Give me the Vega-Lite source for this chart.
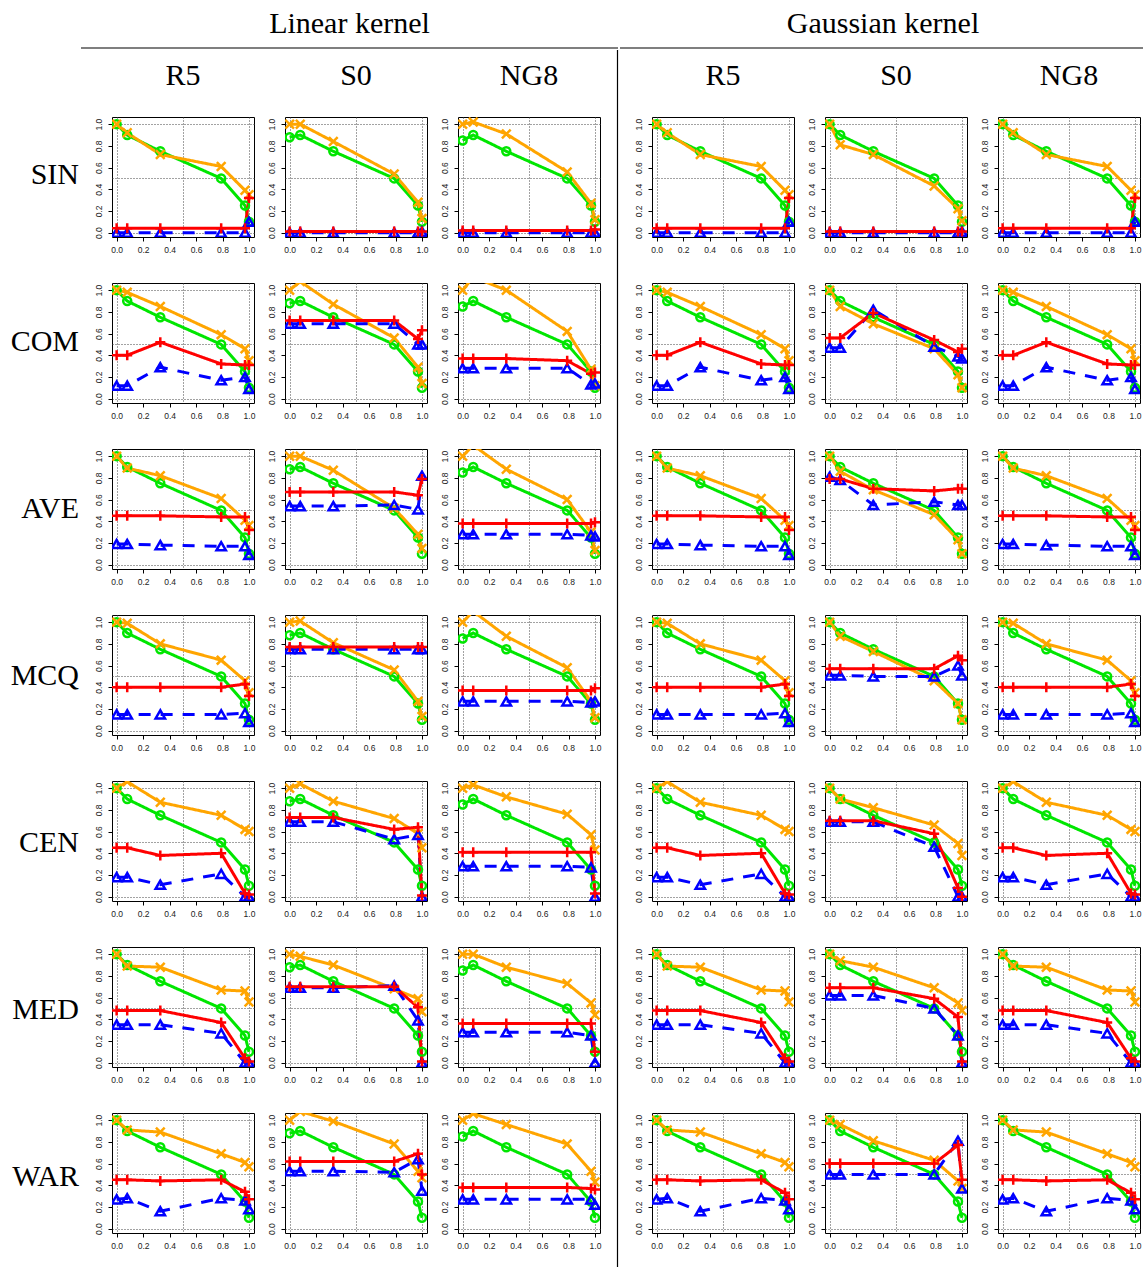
{
"$schema": "https://vega.github.io/schema/vega-lite/v6.json",
"background": "white",
"padding": {"left": 10, "top": 0, "right": 0, "bottom": 0},
"config": {"view": {"stroke": "#000", "strokeWidth": 1}},
"datasets": {
"lin": [
{"m":"SIN","d":"R5","s":"g","x":0,"y":1},{"m":"SIN","d":"R5","s":"g","x":0.08,"y":0.9},{"m":"SIN","d":"R5","s":"g","x":0.33,"y":0.75},{"m":"SIN","d":"R5","s":"g","x":0.79,"y":0.5},{"m":"SIN","d":"R5","s":"g","x":0.97,"y":0.25},{"m":"SIN","d":"R5","s":"g","x":1,"y":0.1},
{"m":"SIN","d":"R5","s":"o","x":0,"y":1},{"m":"SIN","d":"R5","s":"o","x":0.08,"y":0.92},{"m":"SIN","d":"R5","s":"o","x":0.33,"y":0.72},{"m":"SIN","d":"R5","s":"o","x":0.79,"y":0.61},{"m":"SIN","d":"R5","s":"o","x":0.97,"y":0.39},{"m":"SIN","d":"R5","s":"o","x":1,"y":0.35},
{"m":"SIN","d":"R5","s":"b","x":0,"y":0},{"m":"SIN","d":"R5","s":"b","x":0.08,"y":0},{"m":"SIN","d":"R5","s":"b","x":0.33,"y":0},{"m":"SIN","d":"R5","s":"b","x":0.79,"y":0},{"m":"SIN","d":"R5","s":"b","x":0.97,"y":0},{"m":"SIN","d":"R5","s":"b","x":1,"y":0.1},
{"m":"SIN","d":"R5","s":"r","x":0,"y":0.04},{"m":"SIN","d":"R5","s":"r","x":0.08,"y":0.04},{"m":"SIN","d":"R5","s":"r","x":0.33,"y":0.04},{"m":"SIN","d":"R5","s":"r","x":0.79,"y":0.04},{"m":"SIN","d":"R5","s":"r","x":0.97,"y":0.04},{"m":"SIN","d":"R5","s":"r","x":1,"y":0.32},
{"m":"SIN","d":"S0","s":"g","x":0,"y":0.88},{"m":"SIN","d":"S0","s":"g","x":0.08,"y":0.9},{"m":"SIN","d":"S0","s":"g","x":0.33,"y":0.75},{"m":"SIN","d":"S0","s":"g","x":0.79,"y":0.5},{"m":"SIN","d":"S0","s":"g","x":0.97,"y":0.25},{"m":"SIN","d":"S0","s":"g","x":1,"y":0.1},
{"m":"SIN","d":"S0","s":"o","x":0,"y":1},{"m":"SIN","d":"S0","s":"o","x":0.08,"y":1},{"m":"SIN","d":"S0","s":"o","x":0.33,"y":0.84},{"m":"SIN","d":"S0","s":"o","x":0.79,"y":0.54},{"m":"SIN","d":"S0","s":"o","x":0.97,"y":0.28},{"m":"SIN","d":"S0","s":"o","x":1,"y":0.13},
{"m":"SIN","d":"S0","s":"b","x":0,"y":0},{"m":"SIN","d":"S0","s":"b","x":0.08,"y":0},{"m":"SIN","d":"S0","s":"b","x":0.33,"y":0},{"m":"SIN","d":"S0","s":"b","x":0.79,"y":0},{"m":"SIN","d":"S0","s":"b","x":0.97,"y":0},{"m":"SIN","d":"S0","s":"b","x":1,"y":0.01},
{"m":"SIN","d":"S0","s":"r","x":0,"y":0.01},{"m":"SIN","d":"S0","s":"r","x":0.08,"y":0.01},{"m":"SIN","d":"S0","s":"r","x":0.33,"y":0.01},{"m":"SIN","d":"S0","s":"r","x":0.79,"y":0.01},{"m":"SIN","d":"S0","s":"r","x":0.97,"y":0.01},{"m":"SIN","d":"S0","s":"r","x":1,"y":0.01},
{"m":"SIN","d":"NG8","s":"g","x":0,"y":0.85},{"m":"SIN","d":"NG8","s":"g","x":0.08,"y":0.9},{"m":"SIN","d":"NG8","s":"g","x":0.33,"y":0.75},{"m":"SIN","d":"NG8","s":"g","x":0.79,"y":0.5},{"m":"SIN","d":"NG8","s":"g","x":0.97,"y":0.25},{"m":"SIN","d":"NG8","s":"g","x":1,"y":0.1},
{"m":"SIN","d":"NG8","s":"o","x":0,"y":1},{"m":"SIN","d":"NG8","s":"o","x":0.08,"y":1.02},{"m":"SIN","d":"NG8","s":"o","x":0.33,"y":0.91},{"m":"SIN","d":"NG8","s":"o","x":0.79,"y":0.56},{"m":"SIN","d":"NG8","s":"o","x":0.97,"y":0.27},{"m":"SIN","d":"NG8","s":"o","x":1,"y":0.12},
{"m":"SIN","d":"NG8","s":"b","x":0,"y":0},{"m":"SIN","d":"NG8","s":"b","x":0.08,"y":0},{"m":"SIN","d":"NG8","s":"b","x":0.33,"y":0},{"m":"SIN","d":"NG8","s":"b","x":0.79,"y":0},{"m":"SIN","d":"NG8","s":"b","x":0.97,"y":0},{"m":"SIN","d":"NG8","s":"b","x":1,"y":0},
{"m":"SIN","d":"NG8","s":"r","x":0,"y":0.02},{"m":"SIN","d":"NG8","s":"r","x":0.08,"y":0.02},{"m":"SIN","d":"NG8","s":"r","x":0.33,"y":0.02},{"m":"SIN","d":"NG8","s":"r","x":0.79,"y":0.02},{"m":"SIN","d":"NG8","s":"r","x":0.97,"y":0.02},{"m":"SIN","d":"NG8","s":"r","x":1,"y":0.03},
{"m":"COM","d":"R5","s":"g","x":0,"y":1},{"m":"COM","d":"R5","s":"g","x":0.08,"y":0.9},{"m":"COM","d":"R5","s":"g","x":0.33,"y":0.75},{"m":"COM","d":"R5","s":"g","x":0.79,"y":0.5},{"m":"COM","d":"R5","s":"g","x":0.97,"y":0.25},{"m":"COM","d":"R5","s":"g","x":1,"y":0.1},
{"m":"COM","d":"R5","s":"o","x":0,"y":1},{"m":"COM","d":"R5","s":"o","x":0.08,"y":0.98},{"m":"COM","d":"R5","s":"o","x":0.33,"y":0.85},{"m":"COM","d":"R5","s":"o","x":0.79,"y":0.59},{"m":"COM","d":"R5","s":"o","x":0.97,"y":0.46},{"m":"COM","d":"R5","s":"o","x":1,"y":0.35},
{"m":"COM","d":"R5","s":"b","x":0,"y":0.12},{"m":"COM","d":"R5","s":"b","x":0.08,"y":0.12},{"m":"COM","d":"R5","s":"b","x":0.33,"y":0.29},{"m":"COM","d":"R5","s":"b","x":0.79,"y":0.17},{"m":"COM","d":"R5","s":"b","x":0.97,"y":0.2},{"m":"COM","d":"R5","s":"b","x":1,"y":0.09},
{"m":"COM","d":"R5","s":"r","x":0,"y":0.4},{"m":"COM","d":"R5","s":"r","x":0.08,"y":0.4},{"m":"COM","d":"R5","s":"r","x":0.33,"y":0.52},{"m":"COM","d":"R5","s":"r","x":0.79,"y":0.32},{"m":"COM","d":"R5","s":"r","x":0.97,"y":0.31},{"m":"COM","d":"R5","s":"r","x":1,"y":0.31},
{"m":"COM","d":"S0","s":"g","x":0,"y":0.88},{"m":"COM","d":"S0","s":"g","x":0.08,"y":0.9},{"m":"COM","d":"S0","s":"g","x":0.33,"y":0.75},{"m":"COM","d":"S0","s":"g","x":0.79,"y":0.5},{"m":"COM","d":"S0","s":"g","x":0.97,"y":0.25},{"m":"COM","d":"S0","s":"g","x":1,"y":0.1},
{"m":"COM","d":"S0","s":"o","x":0,"y":1},{"m":"COM","d":"S0","s":"o","x":0.08,"y":1.08},{"m":"COM","d":"S0","s":"o","x":0.33,"y":0.87},{"m":"COM","d":"S0","s":"o","x":0.79,"y":0.56},{"m":"COM","d":"S0","s":"o","x":0.97,"y":0.29},{"m":"COM","d":"S0","s":"o","x":1,"y":0.14},
{"m":"COM","d":"S0","s":"b","x":0,"y":0.69},{"m":"COM","d":"S0","s":"b","x":0.08,"y":0.69},{"m":"COM","d":"S0","s":"b","x":0.33,"y":0.69},{"m":"COM","d":"S0","s":"b","x":0.79,"y":0.69},{"m":"COM","d":"S0","s":"b","x":0.97,"y":0.5},{"m":"COM","d":"S0","s":"b","x":1,"y":0.5},
{"m":"COM","d":"S0","s":"r","x":0,"y":0.72},{"m":"COM","d":"S0","s":"r","x":0.08,"y":0.72},{"m":"COM","d":"S0","s":"r","x":0.33,"y":0.72},{"m":"COM","d":"S0","s":"r","x":0.79,"y":0.72},{"m":"COM","d":"S0","s":"r","x":0.97,"y":0.55},{"m":"COM","d":"S0","s":"r","x":1,"y":0.63},
{"m":"COM","d":"NG8","s":"g","x":0,"y":0.85},{"m":"COM","d":"NG8","s":"g","x":0.08,"y":0.9},{"m":"COM","d":"NG8","s":"g","x":0.33,"y":0.75},{"m":"COM","d":"NG8","s":"g","x":0.79,"y":0.5},{"m":"COM","d":"NG8","s":"g","x":0.97,"y":0.25},{"m":"COM","d":"NG8","s":"g","x":1,"y":0.1},
{"m":"COM","d":"NG8","s":"o","x":0,"y":1},{"m":"COM","d":"NG8","s":"o","x":0.08,"y":1.12},{"m":"COM","d":"NG8","s":"o","x":0.33,"y":1},{"m":"COM","d":"NG8","s":"o","x":0.79,"y":0.62},{"m":"COM","d":"NG8","s":"o","x":0.97,"y":0.27},{"m":"COM","d":"NG8","s":"o","x":1,"y":0.12},
{"m":"COM","d":"NG8","s":"b","x":0,"y":0.28},{"m":"COM","d":"NG8","s":"b","x":0.08,"y":0.28},{"m":"COM","d":"NG8","s":"b","x":0.33,"y":0.28},{"m":"COM","d":"NG8","s":"b","x":0.79,"y":0.28},{"m":"COM","d":"NG8","s":"b","x":0.97,"y":0.13},{"m":"COM","d":"NG8","s":"b","x":1,"y":0.14},
{"m":"COM","d":"NG8","s":"r","x":0,"y":0.37},{"m":"COM","d":"NG8","s":"r","x":0.08,"y":0.37},{"m":"COM","d":"NG8","s":"r","x":0.33,"y":0.37},{"m":"COM","d":"NG8","s":"r","x":0.79,"y":0.35},{"m":"COM","d":"NG8","s":"r","x":0.97,"y":0.23},{"m":"COM","d":"NG8","s":"r","x":1,"y":0.24},
{"m":"AVE","d":"R5","s":"g","x":0,"y":1},{"m":"AVE","d":"R5","s":"g","x":0.08,"y":0.9},{"m":"AVE","d":"R5","s":"g","x":0.33,"y":0.75},{"m":"AVE","d":"R5","s":"g","x":0.79,"y":0.5},{"m":"AVE","d":"R5","s":"g","x":0.97,"y":0.25},{"m":"AVE","d":"R5","s":"g","x":1,"y":0.1},
{"m":"AVE","d":"R5","s":"o","x":0,"y":1},{"m":"AVE","d":"R5","s":"o","x":0.08,"y":0.89},{"m":"AVE","d":"R5","s":"o","x":0.33,"y":0.82},{"m":"AVE","d":"R5","s":"o","x":0.79,"y":0.61},{"m":"AVE","d":"R5","s":"o","x":0.97,"y":0.41},{"m":"AVE","d":"R5","s":"o","x":1,"y":0.36},
{"m":"AVE","d":"R5","s":"b","x":0,"y":0.19},{"m":"AVE","d":"R5","s":"b","x":0.08,"y":0.19},{"m":"AVE","d":"R5","s":"b","x":0.33,"y":0.18},{"m":"AVE","d":"R5","s":"b","x":0.79,"y":0.17},{"m":"AVE","d":"R5","s":"b","x":0.97,"y":0.17},{"m":"AVE","d":"R5","s":"b","x":1,"y":0.09},
{"m":"AVE","d":"R5","s":"r","x":0,"y":0.45},{"m":"AVE","d":"R5","s":"r","x":0.08,"y":0.45},{"m":"AVE","d":"R5","s":"r","x":0.33,"y":0.45},{"m":"AVE","d":"R5","s":"r","x":0.79,"y":0.44},{"m":"AVE","d":"R5","s":"r","x":0.97,"y":0.44},{"m":"AVE","d":"R5","s":"r","x":1,"y":0.32},
{"m":"AVE","d":"S0","s":"g","x":0,"y":0.88},{"m":"AVE","d":"S0","s":"g","x":0.08,"y":0.9},{"m":"AVE","d":"S0","s":"g","x":0.33,"y":0.75},{"m":"AVE","d":"S0","s":"g","x":0.79,"y":0.5},{"m":"AVE","d":"S0","s":"g","x":0.97,"y":0.25},{"m":"AVE","d":"S0","s":"g","x":1,"y":0.1},
{"m":"AVE","d":"S0","s":"o","x":0,"y":1},{"m":"AVE","d":"S0","s":"o","x":0.08,"y":1},{"m":"AVE","d":"S0","s":"o","x":0.33,"y":0.87},{"m":"AVE","d":"S0","s":"o","x":0.79,"y":0.52},{"m":"AVE","d":"S0","s":"o","x":0.97,"y":0.28},{"m":"AVE","d":"S0","s":"o","x":1,"y":0.15},
{"m":"AVE","d":"S0","s":"b","x":0,"y":0.54},{"m":"AVE","d":"S0","s":"b","x":0.08,"y":0.54},{"m":"AVE","d":"S0","s":"b","x":0.33,"y":0.54},{"m":"AVE","d":"S0","s":"b","x":0.79,"y":0.55},{"m":"AVE","d":"S0","s":"b","x":0.97,"y":0.51},{"m":"AVE","d":"S0","s":"b","x":1,"y":0.82},
{"m":"AVE","d":"S0","s":"r","x":0,"y":0.67},{"m":"AVE","d":"S0","s":"r","x":0.08,"y":0.67},{"m":"AVE","d":"S0","s":"r","x":0.33,"y":0.67},{"m":"AVE","d":"S0","s":"r","x":0.79,"y":0.67},{"m":"AVE","d":"S0","s":"r","x":0.97,"y":0.64},{"m":"AVE","d":"S0","s":"r","x":1,"y":0.79},
{"m":"AVE","d":"NG8","s":"g","x":0,"y":0.85},{"m":"AVE","d":"NG8","s":"g","x":0.08,"y":0.9},{"m":"AVE","d":"NG8","s":"g","x":0.33,"y":0.75},{"m":"AVE","d":"NG8","s":"g","x":0.79,"y":0.5},{"m":"AVE","d":"NG8","s":"g","x":0.97,"y":0.25},{"m":"AVE","d":"NG8","s":"g","x":1,"y":0.1},
{"m":"AVE","d":"NG8","s":"o","x":0,"y":1},{"m":"AVE","d":"NG8","s":"o","x":0.08,"y":1.1},{"m":"AVE","d":"NG8","s":"o","x":0.33,"y":0.88},{"m":"AVE","d":"NG8","s":"o","x":0.79,"y":0.6},{"m":"AVE","d":"NG8","s":"o","x":0.97,"y":0.3},{"m":"AVE","d":"NG8","s":"o","x":1,"y":0.13},
{"m":"AVE","d":"NG8","s":"b","x":0,"y":0.28},{"m":"AVE","d":"NG8","s":"b","x":0.08,"y":0.28},{"m":"AVE","d":"NG8","s":"b","x":0.33,"y":0.28},{"m":"AVE","d":"NG8","s":"b","x":0.79,"y":0.28},{"m":"AVE","d":"NG8","s":"b","x":0.97,"y":0.27},{"m":"AVE","d":"NG8","s":"b","x":1,"y":0.26},
{"m":"AVE","d":"NG8","s":"r","x":0,"y":0.38},{"m":"AVE","d":"NG8","s":"r","x":0.08,"y":0.38},{"m":"AVE","d":"NG8","s":"r","x":0.33,"y":0.38},{"m":"AVE","d":"NG8","s":"r","x":0.79,"y":0.38},{"m":"AVE","d":"NG8","s":"r","x":0.97,"y":0.38},{"m":"AVE","d":"NG8","s":"r","x":1,"y":0.39},
{"m":"MCQ","d":"R5","s":"g","x":0,"y":1},{"m":"MCQ","d":"R5","s":"g","x":0.08,"y":0.9},{"m":"MCQ","d":"R5","s":"g","x":0.33,"y":0.75},{"m":"MCQ","d":"R5","s":"g","x":0.79,"y":0.5},{"m":"MCQ","d":"R5","s":"g","x":0.97,"y":0.25},{"m":"MCQ","d":"R5","s":"g","x":1,"y":0.1},
{"m":"MCQ","d":"R5","s":"o","x":0,"y":1},{"m":"MCQ","d":"R5","s":"o","x":0.08,"y":0.99},{"m":"MCQ","d":"R5","s":"o","x":0.33,"y":0.8},{"m":"MCQ","d":"R5","s":"o","x":0.79,"y":0.65},{"m":"MCQ","d":"R5","s":"o","x":0.97,"y":0.46},{"m":"MCQ","d":"R5","s":"o","x":1,"y":0.35},
{"m":"MCQ","d":"R5","s":"b","x":0,"y":0.15},{"m":"MCQ","d":"R5","s":"b","x":0.08,"y":0.15},{"m":"MCQ","d":"R5","s":"b","x":0.33,"y":0.15},{"m":"MCQ","d":"R5","s":"b","x":0.79,"y":0.15},{"m":"MCQ","d":"R5","s":"b","x":0.97,"y":0.16},{"m":"MCQ","d":"R5","s":"b","x":1,"y":0.08},
{"m":"MCQ","d":"R5","s":"r","x":0,"y":0.4},{"m":"MCQ","d":"R5","s":"r","x":0.08,"y":0.4},{"m":"MCQ","d":"R5","s":"r","x":0.33,"y":0.4},{"m":"MCQ","d":"R5","s":"r","x":0.79,"y":0.4},{"m":"MCQ","d":"R5","s":"r","x":0.97,"y":0.43},{"m":"MCQ","d":"R5","s":"r","x":1,"y":0.32},
{"m":"MCQ","d":"S0","s":"g","x":0,"y":0.88},{"m":"MCQ","d":"S0","s":"g","x":0.08,"y":0.9},{"m":"MCQ","d":"S0","s":"g","x":0.33,"y":0.75},{"m":"MCQ","d":"S0","s":"g","x":0.79,"y":0.5},{"m":"MCQ","d":"S0","s":"g","x":0.97,"y":0.25},{"m":"MCQ","d":"S0","s":"g","x":1,"y":0.1},
{"m":"MCQ","d":"S0","s":"o","x":0,"y":1},{"m":"MCQ","d":"S0","s":"o","x":0.08,"y":1.01},{"m":"MCQ","d":"S0","s":"o","x":0.33,"y":0.81},{"m":"MCQ","d":"S0","s":"o","x":0.79,"y":0.56},{"m":"MCQ","d":"S0","s":"o","x":0.97,"y":0.27},{"m":"MCQ","d":"S0","s":"o","x":1,"y":0.13},
{"m":"MCQ","d":"S0","s":"b","x":0,"y":0.75},{"m":"MCQ","d":"S0","s":"b","x":0.08,"y":0.75},{"m":"MCQ","d":"S0","s":"b","x":0.33,"y":0.75},{"m":"MCQ","d":"S0","s":"b","x":0.79,"y":0.75},{"m":"MCQ","d":"S0","s":"b","x":0.97,"y":0.75},{"m":"MCQ","d":"S0","s":"b","x":1,"y":0.75},
{"m":"MCQ","d":"S0","s":"r","x":0,"y":0.77},{"m":"MCQ","d":"S0","s":"r","x":0.08,"y":0.77},{"m":"MCQ","d":"S0","s":"r","x":0.33,"y":0.77},{"m":"MCQ","d":"S0","s":"r","x":0.79,"y":0.77},{"m":"MCQ","d":"S0","s":"r","x":0.97,"y":0.77},{"m":"MCQ","d":"S0","s":"r","x":1,"y":0.77},
{"m":"MCQ","d":"NG8","s":"g","x":0,"y":0.85},{"m":"MCQ","d":"NG8","s":"g","x":0.08,"y":0.9},{"m":"MCQ","d":"NG8","s":"g","x":0.33,"y":0.75},{"m":"MCQ","d":"NG8","s":"g","x":0.79,"y":0.5},{"m":"MCQ","d":"NG8","s":"g","x":0.97,"y":0.25},{"m":"MCQ","d":"NG8","s":"g","x":1,"y":0.1},
{"m":"MCQ","d":"NG8","s":"o","x":0,"y":1},{"m":"MCQ","d":"NG8","s":"o","x":0.08,"y":1.1},{"m":"MCQ","d":"NG8","s":"o","x":0.33,"y":0.87},{"m":"MCQ","d":"NG8","s":"o","x":0.79,"y":0.58},{"m":"MCQ","d":"NG8","s":"o","x":0.97,"y":0.27},{"m":"MCQ","d":"NG8","s":"o","x":1,"y":0.12},
{"m":"MCQ","d":"NG8","s":"b","x":0,"y":0.27},{"m":"MCQ","d":"NG8","s":"b","x":0.08,"y":0.27},{"m":"MCQ","d":"NG8","s":"b","x":0.33,"y":0.27},{"m":"MCQ","d":"NG8","s":"b","x":0.79,"y":0.27},{"m":"MCQ","d":"NG8","s":"b","x":0.97,"y":0.26},{"m":"MCQ","d":"NG8","s":"b","x":1,"y":0.27},
{"m":"MCQ","d":"NG8","s":"r","x":0,"y":0.37},{"m":"MCQ","d":"NG8","s":"r","x":0.08,"y":0.37},{"m":"MCQ","d":"NG8","s":"r","x":0.33,"y":0.37},{"m":"MCQ","d":"NG8","s":"r","x":0.79,"y":0.37},{"m":"MCQ","d":"NG8","s":"r","x":0.97,"y":0.37},{"m":"MCQ","d":"NG8","s":"r","x":1,"y":0.39},
{"m":"CEN","d":"R5","s":"g","x":0,"y":1},{"m":"CEN","d":"R5","s":"g","x":0.08,"y":0.9},{"m":"CEN","d":"R5","s":"g","x":0.33,"y":0.75},{"m":"CEN","d":"R5","s":"g","x":0.79,"y":0.5},{"m":"CEN","d":"R5","s":"g","x":0.97,"y":0.25},{"m":"CEN","d":"R5","s":"g","x":1,"y":0.1},
{"m":"CEN","d":"R5","s":"o","x":0,"y":1},{"m":"CEN","d":"R5","s":"o","x":0.08,"y":1.06},{"m":"CEN","d":"R5","s":"o","x":0.33,"y":0.87},{"m":"CEN","d":"R5","s":"o","x":0.79,"y":0.75},{"m":"CEN","d":"R5","s":"o","x":0.97,"y":0.62},{"m":"CEN","d":"R5","s":"o","x":1,"y":0.6},
{"m":"CEN","d":"R5","s":"b","x":0,"y":0.18},{"m":"CEN","d":"R5","s":"b","x":0.08,"y":0.18},{"m":"CEN","d":"R5","s":"b","x":0.33,"y":0.11},{"m":"CEN","d":"R5","s":"b","x":0.79,"y":0.21},{"m":"CEN","d":"R5","s":"b","x":0.97,"y":0},{"m":"CEN","d":"R5","s":"b","x":1,"y":0},
{"m":"CEN","d":"R5","s":"r","x":0,"y":0.45},{"m":"CEN","d":"R5","s":"r","x":0.08,"y":0.45},{"m":"CEN","d":"R5","s":"r","x":0.33,"y":0.38},{"m":"CEN","d":"R5","s":"r","x":0.79,"y":0.4},{"m":"CEN","d":"R5","s":"r","x":0.97,"y":0.03},{"m":"CEN","d":"R5","s":"r","x":1,"y":0.02},
{"m":"CEN","d":"S0","s":"g","x":0,"y":0.88},{"m":"CEN","d":"S0","s":"g","x":0.08,"y":0.9},{"m":"CEN","d":"S0","s":"g","x":0.33,"y":0.75},{"m":"CEN","d":"S0","s":"g","x":0.79,"y":0.5},{"m":"CEN","d":"S0","s":"g","x":0.97,"y":0.25},{"m":"CEN","d":"S0","s":"g","x":1,"y":0.1},
{"m":"CEN","d":"S0","s":"o","x":0,"y":1},{"m":"CEN","d":"S0","s":"o","x":0.08,"y":1.04},{"m":"CEN","d":"S0","s":"o","x":0.33,"y":0.88},{"m":"CEN","d":"S0","s":"o","x":0.79,"y":0.72},{"m":"CEN","d":"S0","s":"o","x":0.97,"y":0.58},{"m":"CEN","d":"S0","s":"o","x":1,"y":0.45},
{"m":"CEN","d":"S0","s":"b","x":0,"y":0.69},{"m":"CEN","d":"S0","s":"b","x":0.08,"y":0.69},{"m":"CEN","d":"S0","s":"b","x":0.33,"y":0.69},{"m":"CEN","d":"S0","s":"b","x":0.79,"y":0.53},{"m":"CEN","d":"S0","s":"b","x":0.97,"y":0.57},{"m":"CEN","d":"S0","s":"b","x":1,"y":0},
{"m":"CEN","d":"S0","s":"r","x":0,"y":0.73},{"m":"CEN","d":"S0","s":"r","x":0.08,"y":0.73},{"m":"CEN","d":"S0","s":"r","x":0.33,"y":0.73},{"m":"CEN","d":"S0","s":"r","x":0.79,"y":0.62},{"m":"CEN","d":"S0","s":"r","x":0.97,"y":0.64},{"m":"CEN","d":"S0","s":"r","x":1,"y":0.01},
{"m":"CEN","d":"NG8","s":"g","x":0,"y":0.85},{"m":"CEN","d":"NG8","s":"g","x":0.08,"y":0.9},{"m":"CEN","d":"NG8","s":"g","x":0.33,"y":0.75},{"m":"CEN","d":"NG8","s":"g","x":0.79,"y":0.5},{"m":"CEN","d":"NG8","s":"g","x":0.97,"y":0.25},{"m":"CEN","d":"NG8","s":"g","x":1,"y":0.1},
{"m":"CEN","d":"NG8","s":"o","x":0,"y":1},{"m":"CEN","d":"NG8","s":"o","x":0.08,"y":1.03},{"m":"CEN","d":"NG8","s":"o","x":0.33,"y":0.92},{"m":"CEN","d":"NG8","s":"o","x":0.79,"y":0.76},{"m":"CEN","d":"NG8","s":"o","x":0.97,"y":0.57},{"m":"CEN","d":"NG8","s":"o","x":1,"y":0.43},
{"m":"CEN","d":"NG8","s":"b","x":0,"y":0.28},{"m":"CEN","d":"NG8","s":"b","x":0.08,"y":0.28},{"m":"CEN","d":"NG8","s":"b","x":0.33,"y":0.28},{"m":"CEN","d":"NG8","s":"b","x":0.79,"y":0.28},{"m":"CEN","d":"NG8","s":"b","x":0.97,"y":0.27},{"m":"CEN","d":"NG8","s":"b","x":1,"y":0},
{"m":"CEN","d":"NG8","s":"r","x":0,"y":0.41},{"m":"CEN","d":"NG8","s":"r","x":0.08,"y":0.41},{"m":"CEN","d":"NG8","s":"r","x":0.33,"y":0.41},{"m":"CEN","d":"NG8","s":"r","x":0.79,"y":0.41},{"m":"CEN","d":"NG8","s":"r","x":0.97,"y":0.41},{"m":"CEN","d":"NG8","s":"r","x":1,"y":0.03},
{"m":"MED","d":"R5","s":"g","x":0,"y":1},{"m":"MED","d":"R5","s":"g","x":0.08,"y":0.9},{"m":"MED","d":"R5","s":"g","x":0.33,"y":0.75},{"m":"MED","d":"R5","s":"g","x":0.79,"y":0.5},{"m":"MED","d":"R5","s":"g","x":0.97,"y":0.25},{"m":"MED","d":"R5","s":"g","x":1,"y":0.1},
{"m":"MED","d":"R5","s":"o","x":0,"y":1},{"m":"MED","d":"R5","s":"o","x":0.08,"y":0.89},{"m":"MED","d":"R5","s":"o","x":0.33,"y":0.88},{"m":"MED","d":"R5","s":"o","x":0.79,"y":0.67},{"m":"MED","d":"R5","s":"o","x":0.97,"y":0.66},{"m":"MED","d":"R5","s":"o","x":1,"y":0.56},
{"m":"MED","d":"R5","s":"b","x":0,"y":0.35},{"m":"MED","d":"R5","s":"b","x":0.08,"y":0.35},{"m":"MED","d":"R5","s":"b","x":0.33,"y":0.35},{"m":"MED","d":"R5","s":"b","x":0.79,"y":0.27},{"m":"MED","d":"R5","s":"b","x":0.97,"y":0},{"m":"MED","d":"R5","s":"b","x":1,"y":0},
{"m":"MED","d":"R5","s":"r","x":0,"y":0.48},{"m":"MED","d":"R5","s":"r","x":0.08,"y":0.48},{"m":"MED","d":"R5","s":"r","x":0.33,"y":0.48},{"m":"MED","d":"R5","s":"r","x":0.79,"y":0.37},{"m":"MED","d":"R5","s":"r","x":0.97,"y":0.04},{"m":"MED","d":"R5","s":"r","x":1,"y":0.01},
{"m":"MED","d":"S0","s":"g","x":0,"y":0.88},{"m":"MED","d":"S0","s":"g","x":0.08,"y":0.9},{"m":"MED","d":"S0","s":"g","x":0.33,"y":0.75},{"m":"MED","d":"S0","s":"g","x":0.79,"y":0.5},{"m":"MED","d":"S0","s":"g","x":0.97,"y":0.25},{"m":"MED","d":"S0","s":"g","x":1,"y":0.1},
{"m":"MED","d":"S0","s":"o","x":0,"y":1},{"m":"MED","d":"S0","s":"o","x":0.08,"y":0.98},{"m":"MED","d":"S0","s":"o","x":0.33,"y":0.9},{"m":"MED","d":"S0","s":"o","x":0.79,"y":0.68},{"m":"MED","d":"S0","s":"o","x":0.97,"y":0.59},{"m":"MED","d":"S0","s":"o","x":1,"y":0.47},
{"m":"MED","d":"S0","s":"b","x":0,"y":0.69},{"m":"MED","d":"S0","s":"b","x":0.08,"y":0.69},{"m":"MED","d":"S0","s":"b","x":0.33,"y":0.69},{"m":"MED","d":"S0","s":"b","x":0.79,"y":0.71},{"m":"MED","d":"S0","s":"b","x":0.97,"y":0.39},{"m":"MED","d":"S0","s":"b","x":1,"y":0},
{"m":"MED","d":"S0","s":"r","x":0,"y":0.7},{"m":"MED","d":"S0","s":"r","x":0.08,"y":0.7},{"m":"MED","d":"S0","s":"r","x":0.33,"y":0.7},{"m":"MED","d":"S0","s":"r","x":0.79,"y":0.7},{"m":"MED","d":"S0","s":"r","x":0.97,"y":0.51},{"m":"MED","d":"S0","s":"r","x":1,"y":0.01},
{"m":"MED","d":"NG8","s":"g","x":0,"y":0.85},{"m":"MED","d":"NG8","s":"g","x":0.08,"y":0.9},{"m":"MED","d":"NG8","s":"g","x":0.33,"y":0.75},{"m":"MED","d":"NG8","s":"g","x":0.79,"y":0.5},{"m":"MED","d":"NG8","s":"g","x":0.97,"y":0.25},{"m":"MED","d":"NG8","s":"g","x":1,"y":0.1},
{"m":"MED","d":"NG8","s":"o","x":0,"y":1},{"m":"MED","d":"NG8","s":"o","x":0.08,"y":1},{"m":"MED","d":"NG8","s":"o","x":0.33,"y":0.88},{"m":"MED","d":"NG8","s":"o","x":0.79,"y":0.73},{"m":"MED","d":"NG8","s":"o","x":0.97,"y":0.55},{"m":"MED","d":"NG8","s":"o","x":1,"y":0.44},
{"m":"MED","d":"NG8","s":"b","x":0,"y":0.28},{"m":"MED","d":"NG8","s":"b","x":0.08,"y":0.28},{"m":"MED","d":"NG8","s":"b","x":0.33,"y":0.28},{"m":"MED","d":"NG8","s":"b","x":0.79,"y":0.28},{"m":"MED","d":"NG8","s":"b","x":0.97,"y":0.25},{"m":"MED","d":"NG8","s":"b","x":1,"y":0},
{"m":"MED","d":"NG8","s":"r","x":0,"y":0.36},{"m":"MED","d":"NG8","s":"r","x":0.08,"y":0.36},{"m":"MED","d":"NG8","s":"r","x":0.33,"y":0.36},{"m":"MED","d":"NG8","s":"r","x":0.79,"y":0.36},{"m":"MED","d":"NG8","s":"r","x":0.97,"y":0.36},{"m":"MED","d":"NG8","s":"r","x":1,"y":0.1},
{"m":"WAR","d":"R5","s":"g","x":0,"y":1},{"m":"WAR","d":"R5","s":"g","x":0.08,"y":0.9},{"m":"WAR","d":"R5","s":"g","x":0.33,"y":0.75},{"m":"WAR","d":"R5","s":"g","x":0.79,"y":0.5},{"m":"WAR","d":"R5","s":"g","x":0.97,"y":0.25},{"m":"WAR","d":"R5","s":"g","x":1,"y":0.1},
{"m":"WAR","d":"R5","s":"o","x":0,"y":1},{"m":"WAR","d":"R5","s":"o","x":0.08,"y":0.91},{"m":"WAR","d":"R5","s":"o","x":0.33,"y":0.89},{"m":"WAR","d":"R5","s":"o","x":0.79,"y":0.69},{"m":"WAR","d":"R5","s":"o","x":0.97,"y":0.61},{"m":"WAR","d":"R5","s":"o","x":1,"y":0.57},
{"m":"WAR","d":"R5","s":"b","x":0,"y":0.27},{"m":"WAR","d":"R5","s":"b","x":0.08,"y":0.28},{"m":"WAR","d":"R5","s":"b","x":0.33,"y":0.16},{"m":"WAR","d":"R5","s":"b","x":0.79,"y":0.28},{"m":"WAR","d":"R5","s":"b","x":0.97,"y":0.26},{"m":"WAR","d":"R5","s":"b","x":1,"y":0.18},
{"m":"WAR","d":"R5","s":"r","x":0,"y":0.45},{"m":"WAR","d":"R5","s":"r","x":0.08,"y":0.45},{"m":"WAR","d":"R5","s":"r","x":0.33,"y":0.44},{"m":"WAR","d":"R5","s":"r","x":0.79,"y":0.45},{"m":"WAR","d":"R5","s":"r","x":0.97,"y":0.34},{"m":"WAR","d":"R5","s":"r","x":1,"y":0.27},
{"m":"WAR","d":"S0","s":"g","x":0,"y":0.88},{"m":"WAR","d":"S0","s":"g","x":0.08,"y":0.9},{"m":"WAR","d":"S0","s":"g","x":0.33,"y":0.75},{"m":"WAR","d":"S0","s":"g","x":0.79,"y":0.5},{"m":"WAR","d":"S0","s":"g","x":0.97,"y":0.25},{"m":"WAR","d":"S0","s":"g","x":1,"y":0.1},
{"m":"WAR","d":"S0","s":"o","x":0,"y":1},{"m":"WAR","d":"S0","s":"o","x":0.08,"y":1.08},{"m":"WAR","d":"S0","s":"o","x":0.33,"y":0.99},{"m":"WAR","d":"S0","s":"o","x":0.79,"y":0.78},{"m":"WAR","d":"S0","s":"o","x":0.97,"y":0.53},{"m":"WAR","d":"S0","s":"o","x":1,"y":0.47},
{"m":"WAR","d":"S0","s":"b","x":0,"y":0.53},{"m":"WAR","d":"S0","s":"b","x":0.08,"y":0.53},{"m":"WAR","d":"S0","s":"b","x":0.33,"y":0.53},{"m":"WAR","d":"S0","s":"b","x":0.79,"y":0.52},{"m":"WAR","d":"S0","s":"b","x":0.97,"y":0.64},{"m":"WAR","d":"S0","s":"b","x":1,"y":0.35},
{"m":"WAR","d":"S0","s":"r","x":0,"y":0.62},{"m":"WAR","d":"S0","s":"r","x":0.08,"y":0.62},{"m":"WAR","d":"S0","s":"r","x":0.33,"y":0.62},{"m":"WAR","d":"S0","s":"r","x":0.79,"y":0.62},{"m":"WAR","d":"S0","s":"r","x":0.97,"y":0.69},{"m":"WAR","d":"S0","s":"r","x":1,"y":0.5},
{"m":"WAR","d":"NG8","s":"g","x":0,"y":0.85},{"m":"WAR","d":"NG8","s":"g","x":0.08,"y":0.9},{"m":"WAR","d":"NG8","s":"g","x":0.33,"y":0.75},{"m":"WAR","d":"NG8","s":"g","x":0.79,"y":0.5},{"m":"WAR","d":"NG8","s":"g","x":0.97,"y":0.25},{"m":"WAR","d":"NG8","s":"g","x":1,"y":0.1},
{"m":"WAR","d":"NG8","s":"o","x":0,"y":1},{"m":"WAR","d":"NG8","s":"o","x":0.08,"y":1.06},{"m":"WAR","d":"NG8","s":"o","x":0.33,"y":0.96},{"m":"WAR","d":"NG8","s":"o","x":0.79,"y":0.78},{"m":"WAR","d":"NG8","s":"o","x":0.97,"y":0.53},{"m":"WAR","d":"NG8","s":"o","x":1,"y":0.43},
{"m":"WAR","d":"NG8","s":"b","x":0,"y":0.27},{"m":"WAR","d":"NG8","s":"b","x":0.08,"y":0.27},{"m":"WAR","d":"NG8","s":"b","x":0.33,"y":0.27},{"m":"WAR","d":"NG8","s":"b","x":0.79,"y":0.27},{"m":"WAR","d":"NG8","s":"b","x":0.97,"y":0.27},{"m":"WAR","d":"NG8","s":"b","x":1,"y":0.22},
{"m":"WAR","d":"NG8","s":"r","x":0,"y":0.38},{"m":"WAR","d":"NG8","s":"r","x":0.08,"y":0.38},{"m":"WAR","d":"NG8","s":"r","x":0.33,"y":0.38},{"m":"WAR","d":"NG8","s":"r","x":0.79,"y":0.38},{"m":"WAR","d":"NG8","s":"r","x":0.97,"y":0.37},{"m":"WAR","d":"NG8","s":"r","x":1,"y":0.36}
],
"gau": [
{"m":"SIN","d":"R5","s":"g","x":0,"y":1},{"m":"SIN","d":"R5","s":"g","x":0.08,"y":0.9},{"m":"SIN","d":"R5","s":"g","x":0.33,"y":0.75},{"m":"SIN","d":"R5","s":"g","x":0.79,"y":0.5},{"m":"SIN","d":"R5","s":"g","x":0.97,"y":0.25},{"m":"SIN","d":"R5","s":"g","x":1,"y":0.1},
{"m":"SIN","d":"R5","s":"o","x":0,"y":1},{"m":"SIN","d":"R5","s":"o","x":0.08,"y":0.92},{"m":"SIN","d":"R5","s":"o","x":0.33,"y":0.72},{"m":"SIN","d":"R5","s":"o","x":0.79,"y":0.61},{"m":"SIN","d":"R5","s":"o","x":0.97,"y":0.39},{"m":"SIN","d":"R5","s":"o","x":1,"y":0.35},
{"m":"SIN","d":"R5","s":"b","x":0,"y":0},{"m":"SIN","d":"R5","s":"b","x":0.08,"y":0},{"m":"SIN","d":"R5","s":"b","x":0.33,"y":0},{"m":"SIN","d":"R5","s":"b","x":0.79,"y":0},{"m":"SIN","d":"R5","s":"b","x":0.97,"y":0},{"m":"SIN","d":"R5","s":"b","x":1,"y":0.1},
{"m":"SIN","d":"R5","s":"r","x":0,"y":0.04},{"m":"SIN","d":"R5","s":"r","x":0.08,"y":0.04},{"m":"SIN","d":"R5","s":"r","x":0.33,"y":0.04},{"m":"SIN","d":"R5","s":"r","x":0.79,"y":0.04},{"m":"SIN","d":"R5","s":"r","x":0.97,"y":0.04},{"m":"SIN","d":"R5","s":"r","x":1,"y":0.32},
{"m":"SIN","d":"S0","s":"g","x":0,"y":1},{"m":"SIN","d":"S0","s":"g","x":0.08,"y":0.9},{"m":"SIN","d":"S0","s":"g","x":0.33,"y":0.75},{"m":"SIN","d":"S0","s":"g","x":0.79,"y":0.5},{"m":"SIN","d":"S0","s":"g","x":0.97,"y":0.25},{"m":"SIN","d":"S0","s":"g","x":1,"y":0.1},
{"m":"SIN","d":"S0","s":"o","x":0,"y":1},{"m":"SIN","d":"S0","s":"o","x":0.08,"y":0.81},{"m":"SIN","d":"S0","s":"o","x":0.33,"y":0.72},{"m":"SIN","d":"S0","s":"o","x":0.79,"y":0.43},{"m":"SIN","d":"S0","s":"o","x":0.97,"y":0.22},{"m":"SIN","d":"S0","s":"o","x":1,"y":0.11},
{"m":"SIN","d":"S0","s":"b","x":0,"y":0},{"m":"SIN","d":"S0","s":"b","x":0.08,"y":0},{"m":"SIN","d":"S0","s":"b","x":0.33,"y":0},{"m":"SIN","d":"S0","s":"b","x":0.79,"y":0},{"m":"SIN","d":"S0","s":"b","x":0.97,"y":0},{"m":"SIN","d":"S0","s":"b","x":1,"y":0.01},
{"m":"SIN","d":"S0","s":"r","x":0,"y":0.01},{"m":"SIN","d":"S0","s":"r","x":0.08,"y":0.01},{"m":"SIN","d":"S0","s":"r","x":0.33,"y":0.01},{"m":"SIN","d":"S0","s":"r","x":0.79,"y":0.01},{"m":"SIN","d":"S0","s":"r","x":0.97,"y":0.01},{"m":"SIN","d":"S0","s":"r","x":1,"y":0.01},
{"m":"SIN","d":"NG8","s":"g","x":0,"y":1},{"m":"SIN","d":"NG8","s":"g","x":0.08,"y":0.9},{"m":"SIN","d":"NG8","s":"g","x":0.33,"y":0.75},{"m":"SIN","d":"NG8","s":"g","x":0.79,"y":0.5},{"m":"SIN","d":"NG8","s":"g","x":0.97,"y":0.25},{"m":"SIN","d":"NG8","s":"g","x":1,"y":0.1},
{"m":"SIN","d":"NG8","s":"o","x":0,"y":1},{"m":"SIN","d":"NG8","s":"o","x":0.08,"y":0.92},{"m":"SIN","d":"NG8","s":"o","x":0.33,"y":0.72},{"m":"SIN","d":"NG8","s":"o","x":0.79,"y":0.61},{"m":"SIN","d":"NG8","s":"o","x":0.97,"y":0.39},{"m":"SIN","d":"NG8","s":"o","x":1,"y":0.35},
{"m":"SIN","d":"NG8","s":"b","x":0,"y":0},{"m":"SIN","d":"NG8","s":"b","x":0.08,"y":0},{"m":"SIN","d":"NG8","s":"b","x":0.33,"y":0},{"m":"SIN","d":"NG8","s":"b","x":0.79,"y":0},{"m":"SIN","d":"NG8","s":"b","x":0.97,"y":0},{"m":"SIN","d":"NG8","s":"b","x":1,"y":0.1},
{"m":"SIN","d":"NG8","s":"r","x":0,"y":0.04},{"m":"SIN","d":"NG8","s":"r","x":0.08,"y":0.04},{"m":"SIN","d":"NG8","s":"r","x":0.33,"y":0.04},{"m":"SIN","d":"NG8","s":"r","x":0.79,"y":0.04},{"m":"SIN","d":"NG8","s":"r","x":0.97,"y":0.04},{"m":"SIN","d":"NG8","s":"r","x":1,"y":0.32},
{"m":"COM","d":"R5","s":"g","x":0,"y":1},{"m":"COM","d":"R5","s":"g","x":0.08,"y":0.9},{"m":"COM","d":"R5","s":"g","x":0.33,"y":0.75},{"m":"COM","d":"R5","s":"g","x":0.79,"y":0.5},{"m":"COM","d":"R5","s":"g","x":0.97,"y":0.25},{"m":"COM","d":"R5","s":"g","x":1,"y":0.1},
{"m":"COM","d":"R5","s":"o","x":0,"y":1},{"m":"COM","d":"R5","s":"o","x":0.08,"y":0.98},{"m":"COM","d":"R5","s":"o","x":0.33,"y":0.85},{"m":"COM","d":"R5","s":"o","x":0.79,"y":0.59},{"m":"COM","d":"R5","s":"o","x":0.97,"y":0.46},{"m":"COM","d":"R5","s":"o","x":1,"y":0.35},
{"m":"COM","d":"R5","s":"b","x":0,"y":0.12},{"m":"COM","d":"R5","s":"b","x":0.08,"y":0.12},{"m":"COM","d":"R5","s":"b","x":0.33,"y":0.29},{"m":"COM","d":"R5","s":"b","x":0.79,"y":0.17},{"m":"COM","d":"R5","s":"b","x":0.97,"y":0.2},{"m":"COM","d":"R5","s":"b","x":1,"y":0.09},
{"m":"COM","d":"R5","s":"r","x":0,"y":0.4},{"m":"COM","d":"R5","s":"r","x":0.08,"y":0.4},{"m":"COM","d":"R5","s":"r","x":0.33,"y":0.52},{"m":"COM","d":"R5","s":"r","x":0.79,"y":0.32},{"m":"COM","d":"R5","s":"r","x":0.97,"y":0.31},{"m":"COM","d":"R5","s":"r","x":1,"y":0.31},
{"m":"COM","d":"S0","s":"g","x":0,"y":1},{"m":"COM","d":"S0","s":"g","x":0.08,"y":0.9},{"m":"COM","d":"S0","s":"g","x":0.33,"y":0.75},{"m":"COM","d":"S0","s":"g","x":0.79,"y":0.5},{"m":"COM","d":"S0","s":"g","x":0.97,"y":0.25},{"m":"COM","d":"S0","s":"g","x":1,"y":0.1},
{"m":"COM","d":"S0","s":"o","x":0,"y":1},{"m":"COM","d":"S0","s":"o","x":0.08,"y":0.85},{"m":"COM","d":"S0","s":"o","x":0.33,"y":0.69},{"m":"COM","d":"S0","s":"o","x":0.79,"y":0.46},{"m":"COM","d":"S0","s":"o","x":0.97,"y":0.22},{"m":"COM","d":"S0","s":"o","x":1,"y":0.1},
{"m":"COM","d":"S0","s":"b","x":0,"y":0.47},{"m":"COM","d":"S0","s":"b","x":0.08,"y":0.47},{"m":"COM","d":"S0","s":"b","x":0.33,"y":0.82},{"m":"COM","d":"S0","s":"b","x":0.79,"y":0.48},{"m":"COM","d":"S0","s":"b","x":0.97,"y":0.39},{"m":"COM","d":"S0","s":"b","x":1,"y":0.37},
{"m":"COM","d":"S0","s":"r","x":0,"y":0.56},{"m":"COM","d":"S0","s":"r","x":0.08,"y":0.56},{"m":"COM","d":"S0","s":"r","x":0.33,"y":0.79},{"m":"COM","d":"S0","s":"r","x":0.79,"y":0.54},{"m":"COM","d":"S0","s":"r","x":0.97,"y":0.43},{"m":"COM","d":"S0","s":"r","x":1,"y":0.46},
{"m":"COM","d":"NG8","s":"g","x":0,"y":1},{"m":"COM","d":"NG8","s":"g","x":0.08,"y":0.9},{"m":"COM","d":"NG8","s":"g","x":0.33,"y":0.75},{"m":"COM","d":"NG8","s":"g","x":0.79,"y":0.5},{"m":"COM","d":"NG8","s":"g","x":0.97,"y":0.25},{"m":"COM","d":"NG8","s":"g","x":1,"y":0.1},
{"m":"COM","d":"NG8","s":"o","x":0,"y":1},{"m":"COM","d":"NG8","s":"o","x":0.08,"y":0.98},{"m":"COM","d":"NG8","s":"o","x":0.33,"y":0.85},{"m":"COM","d":"NG8","s":"o","x":0.79,"y":0.59},{"m":"COM","d":"NG8","s":"o","x":0.97,"y":0.46},{"m":"COM","d":"NG8","s":"o","x":1,"y":0.35},
{"m":"COM","d":"NG8","s":"b","x":0,"y":0.12},{"m":"COM","d":"NG8","s":"b","x":0.08,"y":0.12},{"m":"COM","d":"NG8","s":"b","x":0.33,"y":0.29},{"m":"COM","d":"NG8","s":"b","x":0.79,"y":0.17},{"m":"COM","d":"NG8","s":"b","x":0.97,"y":0.2},{"m":"COM","d":"NG8","s":"b","x":1,"y":0.09},
{"m":"COM","d":"NG8","s":"r","x":0,"y":0.4},{"m":"COM","d":"NG8","s":"r","x":0.08,"y":0.4},{"m":"COM","d":"NG8","s":"r","x":0.33,"y":0.52},{"m":"COM","d":"NG8","s":"r","x":0.79,"y":0.32},{"m":"COM","d":"NG8","s":"r","x":0.97,"y":0.31},{"m":"COM","d":"NG8","s":"r","x":1,"y":0.31},
{"m":"AVE","d":"R5","s":"g","x":0,"y":1},{"m":"AVE","d":"R5","s":"g","x":0.08,"y":0.9},{"m":"AVE","d":"R5","s":"g","x":0.33,"y":0.75},{"m":"AVE","d":"R5","s":"g","x":0.79,"y":0.5},{"m":"AVE","d":"R5","s":"g","x":0.97,"y":0.25},{"m":"AVE","d":"R5","s":"g","x":1,"y":0.1},
{"m":"AVE","d":"R5","s":"o","x":0,"y":1},{"m":"AVE","d":"R5","s":"o","x":0.08,"y":0.89},{"m":"AVE","d":"R5","s":"o","x":0.33,"y":0.82},{"m":"AVE","d":"R5","s":"o","x":0.79,"y":0.61},{"m":"AVE","d":"R5","s":"o","x":0.97,"y":0.41},{"m":"AVE","d":"R5","s":"o","x":1,"y":0.36},
{"m":"AVE","d":"R5","s":"b","x":0,"y":0.19},{"m":"AVE","d":"R5","s":"b","x":0.08,"y":0.19},{"m":"AVE","d":"R5","s":"b","x":0.33,"y":0.18},{"m":"AVE","d":"R5","s":"b","x":0.79,"y":0.17},{"m":"AVE","d":"R5","s":"b","x":0.97,"y":0.17},{"m":"AVE","d":"R5","s":"b","x":1,"y":0.09},
{"m":"AVE","d":"R5","s":"r","x":0,"y":0.45},{"m":"AVE","d":"R5","s":"r","x":0.08,"y":0.45},{"m":"AVE","d":"R5","s":"r","x":0.33,"y":0.45},{"m":"AVE","d":"R5","s":"r","x":0.79,"y":0.44},{"m":"AVE","d":"R5","s":"r","x":0.97,"y":0.44},{"m":"AVE","d":"R5","s":"r","x":1,"y":0.32},
{"m":"AVE","d":"S0","s":"g","x":0,"y":1},{"m":"AVE","d":"S0","s":"g","x":0.08,"y":0.9},{"m":"AVE","d":"S0","s":"g","x":0.33,"y":0.75},{"m":"AVE","d":"S0","s":"g","x":0.79,"y":0.5},{"m":"AVE","d":"S0","s":"g","x":0.97,"y":0.25},{"m":"AVE","d":"S0","s":"g","x":1,"y":0.1},
{"m":"AVE","d":"S0","s":"o","x":0,"y":1},{"m":"AVE","d":"S0","s":"o","x":0.08,"y":0.86},{"m":"AVE","d":"S0","s":"o","x":0.33,"y":0.69},{"m":"AVE","d":"S0","s":"o","x":0.79,"y":0.46},{"m":"AVE","d":"S0","s":"o","x":0.97,"y":0.23},{"m":"AVE","d":"S0","s":"o","x":1,"y":0.1},
{"m":"AVE","d":"S0","s":"b","x":0,"y":0.81},{"m":"AVE","d":"S0","s":"b","x":0.08,"y":0.78},{"m":"AVE","d":"S0","s":"b","x":0.33,"y":0.55},{"m":"AVE","d":"S0","s":"b","x":0.79,"y":0.58},{"m":"AVE","d":"S0","s":"b","x":0.97,"y":0.55},{"m":"AVE","d":"S0","s":"b","x":1,"y":0.55},
{"m":"AVE","d":"S0","s":"r","x":0,"y":0.79},{"m":"AVE","d":"S0","s":"r","x":0.08,"y":0.79},{"m":"AVE","d":"S0","s":"r","x":0.33,"y":0.7},{"m":"AVE","d":"S0","s":"r","x":0.79,"y":0.68},{"m":"AVE","d":"S0","s":"r","x":0.97,"y":0.7},{"m":"AVE","d":"S0","s":"r","x":1,"y":0.7},
{"m":"AVE","d":"NG8","s":"g","x":0,"y":1},{"m":"AVE","d":"NG8","s":"g","x":0.08,"y":0.9},{"m":"AVE","d":"NG8","s":"g","x":0.33,"y":0.75},{"m":"AVE","d":"NG8","s":"g","x":0.79,"y":0.5},{"m":"AVE","d":"NG8","s":"g","x":0.97,"y":0.25},{"m":"AVE","d":"NG8","s":"g","x":1,"y":0.1},
{"m":"AVE","d":"NG8","s":"o","x":0,"y":1},{"m":"AVE","d":"NG8","s":"o","x":0.08,"y":0.89},{"m":"AVE","d":"NG8","s":"o","x":0.33,"y":0.82},{"m":"AVE","d":"NG8","s":"o","x":0.79,"y":0.61},{"m":"AVE","d":"NG8","s":"o","x":0.97,"y":0.41},{"m":"AVE","d":"NG8","s":"o","x":1,"y":0.36},
{"m":"AVE","d":"NG8","s":"b","x":0,"y":0.19},{"m":"AVE","d":"NG8","s":"b","x":0.08,"y":0.19},{"m":"AVE","d":"NG8","s":"b","x":0.33,"y":0.18},{"m":"AVE","d":"NG8","s":"b","x":0.79,"y":0.17},{"m":"AVE","d":"NG8","s":"b","x":0.97,"y":0.17},{"m":"AVE","d":"NG8","s":"b","x":1,"y":0.09},
{"m":"AVE","d":"NG8","s":"r","x":0,"y":0.45},{"m":"AVE","d":"NG8","s":"r","x":0.08,"y":0.45},{"m":"AVE","d":"NG8","s":"r","x":0.33,"y":0.45},{"m":"AVE","d":"NG8","s":"r","x":0.79,"y":0.44},{"m":"AVE","d":"NG8","s":"r","x":0.97,"y":0.44},{"m":"AVE","d":"NG8","s":"r","x":1,"y":0.32},
{"m":"MCQ","d":"R5","s":"g","x":0,"y":1},{"m":"MCQ","d":"R5","s":"g","x":0.08,"y":0.9},{"m":"MCQ","d":"R5","s":"g","x":0.33,"y":0.75},{"m":"MCQ","d":"R5","s":"g","x":0.79,"y":0.5},{"m":"MCQ","d":"R5","s":"g","x":0.97,"y":0.25},{"m":"MCQ","d":"R5","s":"g","x":1,"y":0.1},
{"m":"MCQ","d":"R5","s":"o","x":0,"y":1},{"m":"MCQ","d":"R5","s":"o","x":0.08,"y":0.99},{"m":"MCQ","d":"R5","s":"o","x":0.33,"y":0.8},{"m":"MCQ","d":"R5","s":"o","x":0.79,"y":0.65},{"m":"MCQ","d":"R5","s":"o","x":0.97,"y":0.46},{"m":"MCQ","d":"R5","s":"o","x":1,"y":0.35},
{"m":"MCQ","d":"R5","s":"b","x":0,"y":0.15},{"m":"MCQ","d":"R5","s":"b","x":0.08,"y":0.15},{"m":"MCQ","d":"R5","s":"b","x":0.33,"y":0.15},{"m":"MCQ","d":"R5","s":"b","x":0.79,"y":0.15},{"m":"MCQ","d":"R5","s":"b","x":0.97,"y":0.16},{"m":"MCQ","d":"R5","s":"b","x":1,"y":0.08},
{"m":"MCQ","d":"R5","s":"r","x":0,"y":0.4},{"m":"MCQ","d":"R5","s":"r","x":0.08,"y":0.4},{"m":"MCQ","d":"R5","s":"r","x":0.33,"y":0.4},{"m":"MCQ","d":"R5","s":"r","x":0.79,"y":0.4},{"m":"MCQ","d":"R5","s":"r","x":0.97,"y":0.43},{"m":"MCQ","d":"R5","s":"r","x":1,"y":0.32},
{"m":"MCQ","d":"S0","s":"g","x":0,"y":1},{"m":"MCQ","d":"S0","s":"g","x":0.08,"y":0.9},{"m":"MCQ","d":"S0","s":"g","x":0.33,"y":0.75},{"m":"MCQ","d":"S0","s":"g","x":0.79,"y":0.5},{"m":"MCQ","d":"S0","s":"g","x":0.97,"y":0.25},{"m":"MCQ","d":"S0","s":"g","x":1,"y":0.1},
{"m":"MCQ","d":"S0","s":"o","x":0,"y":1},{"m":"MCQ","d":"S0","s":"o","x":0.08,"y":0.87},{"m":"MCQ","d":"S0","s":"o","x":0.33,"y":0.73},{"m":"MCQ","d":"S0","s":"o","x":0.79,"y":0.46},{"m":"MCQ","d":"S0","s":"o","x":0.97,"y":0.25},{"m":"MCQ","d":"S0","s":"o","x":1,"y":0.1},
{"m":"MCQ","d":"S0","s":"b","x":0,"y":0.51},{"m":"MCQ","d":"S0","s":"b","x":0.08,"y":0.51},{"m":"MCQ","d":"S0","s":"b","x":0.33,"y":0.5},{"m":"MCQ","d":"S0","s":"b","x":0.79,"y":0.5},{"m":"MCQ","d":"S0","s":"b","x":0.97,"y":0.6},{"m":"MCQ","d":"S0","s":"b","x":1,"y":0.51},
{"m":"MCQ","d":"S0","s":"r","x":0,"y":0.57},{"m":"MCQ","d":"S0","s":"r","x":0.08,"y":0.57},{"m":"MCQ","d":"S0","s":"r","x":0.33,"y":0.57},{"m":"MCQ","d":"S0","s":"r","x":0.79,"y":0.57},{"m":"MCQ","d":"S0","s":"r","x":0.97,"y":0.69},{"m":"MCQ","d":"S0","s":"r","x":1,"y":0.65},
{"m":"MCQ","d":"NG8","s":"g","x":0,"y":1},{"m":"MCQ","d":"NG8","s":"g","x":0.08,"y":0.9},{"m":"MCQ","d":"NG8","s":"g","x":0.33,"y":0.75},{"m":"MCQ","d":"NG8","s":"g","x":0.79,"y":0.5},{"m":"MCQ","d":"NG8","s":"g","x":0.97,"y":0.25},{"m":"MCQ","d":"NG8","s":"g","x":1,"y":0.1},
{"m":"MCQ","d":"NG8","s":"o","x":0,"y":1},{"m":"MCQ","d":"NG8","s":"o","x":0.08,"y":0.99},{"m":"MCQ","d":"NG8","s":"o","x":0.33,"y":0.8},{"m":"MCQ","d":"NG8","s":"o","x":0.79,"y":0.65},{"m":"MCQ","d":"NG8","s":"o","x":0.97,"y":0.46},{"m":"MCQ","d":"NG8","s":"o","x":1,"y":0.35},
{"m":"MCQ","d":"NG8","s":"b","x":0,"y":0.15},{"m":"MCQ","d":"NG8","s":"b","x":0.08,"y":0.15},{"m":"MCQ","d":"NG8","s":"b","x":0.33,"y":0.15},{"m":"MCQ","d":"NG8","s":"b","x":0.79,"y":0.15},{"m":"MCQ","d":"NG8","s":"b","x":0.97,"y":0.16},{"m":"MCQ","d":"NG8","s":"b","x":1,"y":0.08},
{"m":"MCQ","d":"NG8","s":"r","x":0,"y":0.4},{"m":"MCQ","d":"NG8","s":"r","x":0.08,"y":0.4},{"m":"MCQ","d":"NG8","s":"r","x":0.33,"y":0.4},{"m":"MCQ","d":"NG8","s":"r","x":0.79,"y":0.4},{"m":"MCQ","d":"NG8","s":"r","x":0.97,"y":0.43},{"m":"MCQ","d":"NG8","s":"r","x":1,"y":0.32},
{"m":"CEN","d":"R5","s":"g","x":0,"y":1},{"m":"CEN","d":"R5","s":"g","x":0.08,"y":0.9},{"m":"CEN","d":"R5","s":"g","x":0.33,"y":0.75},{"m":"CEN","d":"R5","s":"g","x":0.79,"y":0.5},{"m":"CEN","d":"R5","s":"g","x":0.97,"y":0.25},{"m":"CEN","d":"R5","s":"g","x":1,"y":0.1},
{"m":"CEN","d":"R5","s":"o","x":0,"y":1},{"m":"CEN","d":"R5","s":"o","x":0.08,"y":1.06},{"m":"CEN","d":"R5","s":"o","x":0.33,"y":0.87},{"m":"CEN","d":"R5","s":"o","x":0.79,"y":0.75},{"m":"CEN","d":"R5","s":"o","x":0.97,"y":0.62},{"m":"CEN","d":"R5","s":"o","x":1,"y":0.6},
{"m":"CEN","d":"R5","s":"b","x":0,"y":0.18},{"m":"CEN","d":"R5","s":"b","x":0.08,"y":0.18},{"m":"CEN","d":"R5","s":"b","x":0.33,"y":0.11},{"m":"CEN","d":"R5","s":"b","x":0.79,"y":0.21},{"m":"CEN","d":"R5","s":"b","x":0.97,"y":0},{"m":"CEN","d":"R5","s":"b","x":1,"y":0},
{"m":"CEN","d":"R5","s":"r","x":0,"y":0.45},{"m":"CEN","d":"R5","s":"r","x":0.08,"y":0.45},{"m":"CEN","d":"R5","s":"r","x":0.33,"y":0.38},{"m":"CEN","d":"R5","s":"r","x":0.79,"y":0.4},{"m":"CEN","d":"R5","s":"r","x":0.97,"y":0.03},{"m":"CEN","d":"R5","s":"r","x":1,"y":0.02},
{"m":"CEN","d":"S0","s":"g","x":0,"y":1},{"m":"CEN","d":"S0","s":"g","x":0.08,"y":0.9},{"m":"CEN","d":"S0","s":"g","x":0.33,"y":0.75},{"m":"CEN","d":"S0","s":"g","x":0.79,"y":0.5},{"m":"CEN","d":"S0","s":"g","x":0.97,"y":0.25},{"m":"CEN","d":"S0","s":"g","x":1,"y":0.1},
{"m":"CEN","d":"S0","s":"o","x":0,"y":1},{"m":"CEN","d":"S0","s":"o","x":0.08,"y":0.9},{"m":"CEN","d":"S0","s":"o","x":0.33,"y":0.82},{"m":"CEN","d":"S0","s":"o","x":0.79,"y":0.66},{"m":"CEN","d":"S0","s":"o","x":0.97,"y":0.49},{"m":"CEN","d":"S0","s":"o","x":1,"y":0.38},
{"m":"CEN","d":"S0","s":"b","x":0,"y":0.69},{"m":"CEN","d":"S0","s":"b","x":0.08,"y":0.69},{"m":"CEN","d":"S0","s":"b","x":0.33,"y":0.69},{"m":"CEN","d":"S0","s":"b","x":0.79,"y":0.46},{"m":"CEN","d":"S0","s":"b","x":0.97,"y":0},{"m":"CEN","d":"S0","s":"b","x":1,"y":0},
{"m":"CEN","d":"S0","s":"r","x":0,"y":0.7},{"m":"CEN","d":"S0","s":"r","x":0.08,"y":0.7},{"m":"CEN","d":"S0","s":"r","x":0.33,"y":0.7},{"m":"CEN","d":"S0","s":"r","x":0.79,"y":0.58},{"m":"CEN","d":"S0","s":"r","x":0.97,"y":0.08},{"m":"CEN","d":"S0","s":"r","x":1,"y":0},
{"m":"CEN","d":"NG8","s":"g","x":0,"y":1},{"m":"CEN","d":"NG8","s":"g","x":0.08,"y":0.9},{"m":"CEN","d":"NG8","s":"g","x":0.33,"y":0.75},{"m":"CEN","d":"NG8","s":"g","x":0.79,"y":0.5},{"m":"CEN","d":"NG8","s":"g","x":0.97,"y":0.25},{"m":"CEN","d":"NG8","s":"g","x":1,"y":0.1},
{"m":"CEN","d":"NG8","s":"o","x":0,"y":1},{"m":"CEN","d":"NG8","s":"o","x":0.08,"y":1.06},{"m":"CEN","d":"NG8","s":"o","x":0.33,"y":0.87},{"m":"CEN","d":"NG8","s":"o","x":0.79,"y":0.75},{"m":"CEN","d":"NG8","s":"o","x":0.97,"y":0.62},{"m":"CEN","d":"NG8","s":"o","x":1,"y":0.6},
{"m":"CEN","d":"NG8","s":"b","x":0,"y":0.18},{"m":"CEN","d":"NG8","s":"b","x":0.08,"y":0.18},{"m":"CEN","d":"NG8","s":"b","x":0.33,"y":0.11},{"m":"CEN","d":"NG8","s":"b","x":0.79,"y":0.21},{"m":"CEN","d":"NG8","s":"b","x":0.97,"y":0},{"m":"CEN","d":"NG8","s":"b","x":1,"y":0},
{"m":"CEN","d":"NG8","s":"r","x":0,"y":0.45},{"m":"CEN","d":"NG8","s":"r","x":0.08,"y":0.45},{"m":"CEN","d":"NG8","s":"r","x":0.33,"y":0.38},{"m":"CEN","d":"NG8","s":"r","x":0.79,"y":0.4},{"m":"CEN","d":"NG8","s":"r","x":0.97,"y":0.03},{"m":"CEN","d":"NG8","s":"r","x":1,"y":0.02},
{"m":"MED","d":"R5","s":"g","x":0,"y":1},{"m":"MED","d":"R5","s":"g","x":0.08,"y":0.9},{"m":"MED","d":"R5","s":"g","x":0.33,"y":0.75},{"m":"MED","d":"R5","s":"g","x":0.79,"y":0.5},{"m":"MED","d":"R5","s":"g","x":0.97,"y":0.25},{"m":"MED","d":"R5","s":"g","x":1,"y":0.1},
{"m":"MED","d":"R5","s":"o","x":0,"y":1},{"m":"MED","d":"R5","s":"o","x":0.08,"y":0.89},{"m":"MED","d":"R5","s":"o","x":0.33,"y":0.88},{"m":"MED","d":"R5","s":"o","x":0.79,"y":0.67},{"m":"MED","d":"R5","s":"o","x":0.97,"y":0.66},{"m":"MED","d":"R5","s":"o","x":1,"y":0.56},
{"m":"MED","d":"R5","s":"b","x":0,"y":0.35},{"m":"MED","d":"R5","s":"b","x":0.08,"y":0.35},{"m":"MED","d":"R5","s":"b","x":0.33,"y":0.35},{"m":"MED","d":"R5","s":"b","x":0.79,"y":0.27},{"m":"MED","d":"R5","s":"b","x":0.97,"y":0},{"m":"MED","d":"R5","s":"b","x":1,"y":0},
{"m":"MED","d":"R5","s":"r","x":0,"y":0.48},{"m":"MED","d":"R5","s":"r","x":0.08,"y":0.48},{"m":"MED","d":"R5","s":"r","x":0.33,"y":0.48},{"m":"MED","d":"R5","s":"r","x":0.79,"y":0.37},{"m":"MED","d":"R5","s":"r","x":0.97,"y":0.04},{"m":"MED","d":"R5","s":"r","x":1,"y":0.01},
{"m":"MED","d":"S0","s":"g","x":0,"y":1},{"m":"MED","d":"S0","s":"g","x":0.08,"y":0.9},{"m":"MED","d":"S0","s":"g","x":0.33,"y":0.75},{"m":"MED","d":"S0","s":"g","x":0.79,"y":0.5},{"m":"MED","d":"S0","s":"g","x":0.97,"y":0.25},{"m":"MED","d":"S0","s":"g","x":1,"y":0.1},
{"m":"MED","d":"S0","s":"o","x":0,"y":1},{"m":"MED","d":"S0","s":"o","x":0.08,"y":0.94},{"m":"MED","d":"S0","s":"o","x":0.33,"y":0.88},{"m":"MED","d":"S0","s":"o","x":0.79,"y":0.69},{"m":"MED","d":"S0","s":"o","x":0.97,"y":0.55},{"m":"MED","d":"S0","s":"o","x":1,"y":0.48},
{"m":"MED","d":"S0","s":"b","x":0,"y":0.62},{"m":"MED","d":"S0","s":"b","x":0.08,"y":0.62},{"m":"MED","d":"S0","s":"b","x":0.33,"y":0.62},{"m":"MED","d":"S0","s":"b","x":0.79,"y":0.5},{"m":"MED","d":"S0","s":"b","x":0.97,"y":0.25},{"m":"MED","d":"S0","s":"b","x":1,"y":0},
{"m":"MED","d":"S0","s":"r","x":0,"y":0.69},{"m":"MED","d":"S0","s":"r","x":0.08,"y":0.69},{"m":"MED","d":"S0","s":"r","x":0.33,"y":0.69},{"m":"MED","d":"S0","s":"r","x":0.79,"y":0.59},{"m":"MED","d":"S0","s":"r","x":0.97,"y":0.42},{"m":"MED","d":"S0","s":"r","x":1,"y":0.01},
{"m":"MED","d":"NG8","s":"g","x":0,"y":1},{"m":"MED","d":"NG8","s":"g","x":0.08,"y":0.9},{"m":"MED","d":"NG8","s":"g","x":0.33,"y":0.75},{"m":"MED","d":"NG8","s":"g","x":0.79,"y":0.5},{"m":"MED","d":"NG8","s":"g","x":0.97,"y":0.25},{"m":"MED","d":"NG8","s":"g","x":1,"y":0.1},
{"m":"MED","d":"NG8","s":"o","x":0,"y":1},{"m":"MED","d":"NG8","s":"o","x":0.08,"y":0.89},{"m":"MED","d":"NG8","s":"o","x":0.33,"y":0.88},{"m":"MED","d":"NG8","s":"o","x":0.79,"y":0.67},{"m":"MED","d":"NG8","s":"o","x":0.97,"y":0.66},{"m":"MED","d":"NG8","s":"o","x":1,"y":0.56},
{"m":"MED","d":"NG8","s":"b","x":0,"y":0.35},{"m":"MED","d":"NG8","s":"b","x":0.08,"y":0.35},{"m":"MED","d":"NG8","s":"b","x":0.33,"y":0.35},{"m":"MED","d":"NG8","s":"b","x":0.79,"y":0.27},{"m":"MED","d":"NG8","s":"b","x":0.97,"y":0},{"m":"MED","d":"NG8","s":"b","x":1,"y":0},
{"m":"MED","d":"NG8","s":"r","x":0,"y":0.48},{"m":"MED","d":"NG8","s":"r","x":0.08,"y":0.48},{"m":"MED","d":"NG8","s":"r","x":0.33,"y":0.48},{"m":"MED","d":"NG8","s":"r","x":0.79,"y":0.37},{"m":"MED","d":"NG8","s":"r","x":0.97,"y":0.04},{"m":"MED","d":"NG8","s":"r","x":1,"y":0.01},
{"m":"WAR","d":"R5","s":"g","x":0,"y":1},{"m":"WAR","d":"R5","s":"g","x":0.08,"y":0.9},{"m":"WAR","d":"R5","s":"g","x":0.33,"y":0.75},{"m":"WAR","d":"R5","s":"g","x":0.79,"y":0.5},{"m":"WAR","d":"R5","s":"g","x":0.97,"y":0.25},{"m":"WAR","d":"R5","s":"g","x":1,"y":0.1},
{"m":"WAR","d":"R5","s":"o","x":0,"y":1},{"m":"WAR","d":"R5","s":"o","x":0.08,"y":0.91},{"m":"WAR","d":"R5","s":"o","x":0.33,"y":0.89},{"m":"WAR","d":"R5","s":"o","x":0.79,"y":0.69},{"m":"WAR","d":"R5","s":"o","x":0.97,"y":0.61},{"m":"WAR","d":"R5","s":"o","x":1,"y":0.57},
{"m":"WAR","d":"R5","s":"b","x":0,"y":0.27},{"m":"WAR","d":"R5","s":"b","x":0.08,"y":0.28},{"m":"WAR","d":"R5","s":"b","x":0.33,"y":0.16},{"m":"WAR","d":"R5","s":"b","x":0.79,"y":0.28},{"m":"WAR","d":"R5","s":"b","x":0.97,"y":0.26},{"m":"WAR","d":"R5","s":"b","x":1,"y":0.18},
{"m":"WAR","d":"R5","s":"r","x":0,"y":0.45},{"m":"WAR","d":"R5","s":"r","x":0.08,"y":0.45},{"m":"WAR","d":"R5","s":"r","x":0.33,"y":0.44},{"m":"WAR","d":"R5","s":"r","x":0.79,"y":0.45},{"m":"WAR","d":"R5","s":"r","x":0.97,"y":0.33},{"m":"WAR","d":"R5","s":"r","x":1,"y":0.27},
{"m":"WAR","d":"S0","s":"g","x":0,"y":1},{"m":"WAR","d":"S0","s":"g","x":0.08,"y":0.9},{"m":"WAR","d":"S0","s":"g","x":0.33,"y":0.75},{"m":"WAR","d":"S0","s":"g","x":0.79,"y":0.5},{"m":"WAR","d":"S0","s":"g","x":0.97,"y":0.25},{"m":"WAR","d":"S0","s":"g","x":1,"y":0.1},
{"m":"WAR","d":"S0","s":"o","x":0,"y":1},{"m":"WAR","d":"S0","s":"o","x":0.08,"y":0.96},{"m":"WAR","d":"S0","s":"o","x":0.33,"y":0.81},{"m":"WAR","d":"S0","s":"o","x":0.79,"y":0.63},{"m":"WAR","d":"S0","s":"o","x":0.97,"y":0.44},{"m":"WAR","d":"S0","s":"o","x":1,"y":0.37},
{"m":"WAR","d":"S0","s":"b","x":0,"y":0.5},{"m":"WAR","d":"S0","s":"b","x":0.08,"y":0.5},{"m":"WAR","d":"S0","s":"b","x":0.33,"y":0.5},{"m":"WAR","d":"S0","s":"b","x":0.79,"y":0.5},{"m":"WAR","d":"S0","s":"b","x":0.97,"y":0.81},{"m":"WAR","d":"S0","s":"b","x":1,"y":0.37},
{"m":"WAR","d":"S0","s":"r","x":0,"y":0.6},{"m":"WAR","d":"S0","s":"r","x":0.08,"y":0.6},{"m":"WAR","d":"S0","s":"r","x":0.33,"y":0.6},{"m":"WAR","d":"S0","s":"r","x":0.79,"y":0.6},{"m":"WAR","d":"S0","s":"r","x":0.97,"y":0.77},{"m":"WAR","d":"S0","s":"r","x":1,"y":0.45},
{"m":"WAR","d":"NG8","s":"g","x":0,"y":1},{"m":"WAR","d":"NG8","s":"g","x":0.08,"y":0.9},{"m":"WAR","d":"NG8","s":"g","x":0.33,"y":0.75},{"m":"WAR","d":"NG8","s":"g","x":0.79,"y":0.5},{"m":"WAR","d":"NG8","s":"g","x":0.97,"y":0.25},{"m":"WAR","d":"NG8","s":"g","x":1,"y":0.1},
{"m":"WAR","d":"NG8","s":"o","x":0,"y":1},{"m":"WAR","d":"NG8","s":"o","x":0.08,"y":0.91},{"m":"WAR","d":"NG8","s":"o","x":0.33,"y":0.89},{"m":"WAR","d":"NG8","s":"o","x":0.79,"y":0.69},{"m":"WAR","d":"NG8","s":"o","x":0.97,"y":0.61},{"m":"WAR","d":"NG8","s":"o","x":1,"y":0.57},
{"m":"WAR","d":"NG8","s":"b","x":0,"y":0.27},{"m":"WAR","d":"NG8","s":"b","x":0.08,"y":0.28},{"m":"WAR","d":"NG8","s":"b","x":0.33,"y":0.16},{"m":"WAR","d":"NG8","s":"b","x":0.79,"y":0.28},{"m":"WAR","d":"NG8","s":"b","x":0.97,"y":0.26},{"m":"WAR","d":"NG8","s":"b","x":1,"y":0.18},
{"m":"WAR","d":"NG8","s":"r","x":0,"y":0.45},{"m":"WAR","d":"NG8","s":"r","x":0.08,"y":0.45},{"m":"WAR","d":"NG8","s":"r","x":0.33,"y":0.44},{"m":"WAR","d":"NG8","s":"r","x":0.79,"y":0.45},{"m":"WAR","d":"NG8","s":"r","x":0.97,"y":0.33},{"m":"WAR","d":"NG8","s":"r","x":1,"y":0.27}
]
},
"vconcat": [
{"hconcat": [
  {"data": {"values": []}, "mark": "point", "width": 70, "height": 48, "view": {"stroke": null}},
  {"width": 537, "height": 48, "view": {"stroke": null}, "data": {"values": [{"t": "Linear kernel"}]},
   "layer": [
    {"mark": {"type": "text", "font": "Liberation Serif", "fontSize": 30, "baseline": "middle", "color": "#000"}, "encoding": {"text": {"field": "t"}}},
    {"mark": {"type": "rule", "color": "#000", "strokeWidth": 1.2}, "encoding": {"y": {"datum": 0, "scale": {"domain": [0, 1]}, "axis": null}}}
   ]},
  {"width": 526, "height": 48, "view": {"stroke": null}, "data": {"values": [{"t": "Gaussian kernel"}]},
   "layer": [
    {"mark": {"type": "text", "font": "Liberation Serif", "fontSize": 30, "baseline": "middle", "color": "#000"}, "encoding": {"text": {"field": "t"}}},
    {"mark": {"type": "rule", "color": "#000", "strokeWidth": 1.2}, "encoding": {"y": {"datum": 0, "scale": {"domain": [0, 1]}, "axis": null}}}
   ]}
 ], "spacing": 0},
{"hconcat": [
  {"vconcat": [
    {"data": {"values": []}, "mark": "point", "width": 69, "height": 69, "view": {"stroke": null}},
    {"data": {"values": [{"m":"SIN"},{"m":"COM"},{"m":"AVE"},{"m":"MCQ"},{"m":"CEN"},{"m":"MED"},{"m":"WAR"}]},
     "width": 69, "height": 1122, "view": {"stroke": null},
     "mark": {"type": "text", "align": "right", "baseline": "middle", "font": "Liberation Serif", "fontSize": 30, "color": "#000", "dy": -4},
     "encoding": {
       "y": {"field": "m", "type": "nominal", "sort": ["SIN","COM","AVE","MCQ","CEN","MED","WAR"], "scale": {"type": "band", "paddingInner": 0.2817, "paddingOuter": 0}, "axis": null},
       "x": {"datum": 1, "scale": {"domain": [0, 1]}, "axis": null},
       "text": {"field": "m"}
     }}
  ], "spacing": 0},
  {"vconcat": [
    {"data": {"values": []}, "mark": "point", "width": 10, "height": 11, "view": {"stroke": null}},
    {"data": {"name": "lin"},
     "facet": {
       "row": {"field": "m", "type": "nominal", "sort": ["SIN","COM","AVE","MCQ","CEN","MED","WAR"], "header": {"title": null, "labels": false}},
       "column": {"field": "d", "type": "nominal", "sort": ["R5","S0","NG8"], "header": {"title": null, "labelFont": "Liberation Serif", "labelFontSize": 30, "labelColor": "#000", "labelPadding": 25}}
     },
     "spacing": {"row": 28, "column": 10},
     "resolve": {"axis": {"x": "independent", "y": "independent"}},
     "spec": {
       "width": 142, "height": 120,
       "encoding": {
         "x": {"field": "x", "type": "quantitative", "scale": {"domain": [-0.035, 1.038], "nice": false, "zero": false},
               "axis": {"values": [0,0.2,0.4,0.5,0.6,0.8,1], "format": ".1f", "labelExpr": "datum.value == 0.5 ? '' : datum.label", "title": null, "domain": false, "grid": true, "gridColor": "#444", "gridDash": [1,2], "gridWidth": 1, "gridOpacity": {"condition": {"test": "datum.value == 0 || datum.value == 0.5 || datum.value == 1", "value": 1}, "value": 0}, "tickColor": "#000", "tickSize": 4, "tickWidth": 1, "tickOpacity": {"condition": {"test": "datum.value == 0.5", "value": 0}, "value": 1}, "labelFont": "Liberation Sans", "labelFontSize": 8.5, "labelColor": "#222", "labelPadding": 4, "labelFlush": false, "labelOverlap": false, "labelBound": false}},
         "y": {"field": "y", "type": "quantitative", "scale": {"domain": [-0.04, 1.066], "nice": false, "zero": false},
               "axis": {"values": [0,0.2,0.4,0.5,0.6,0.8,1], "format": ".1f", "labelExpr": "datum.value == 0.5 ? '' : datum.label", "title": null, "domain": false, "grid": true, "gridColor": "#444", "gridDash": [1,2], "gridWidth": 1, "gridOpacity": {"condition": {"test": "datum.value == 0 || datum.value == 0.5 || datum.value == 1", "value": 1}, "value": 0}, "tickColor": "#000", "tickSize": 4, "tickWidth": 1, "tickOpacity": {"condition": {"test": "datum.value == 0.5", "value": 0}, "value": 1}, "labelFont": "Liberation Sans", "labelFontSize": 8.5, "labelColor": "#222", "labelPadding": 5, "labelAngle": 270, "labelAlign": "center", "labelBaseline": "bottom", "labelFlush": false, "labelOverlap": false, "labelBound": false}},
         "color": {"field": "s", "type": "nominal", "scale": {"domain": ["g","o","b","r"], "range": ["#00e600","#ffa500","#0000ff","#ff0000"]}, "legend": null}
       },
       "layer": [
         {"mark": {"type": "line", "strokeWidth": 3, "clip": true},
          "encoding": {"strokeDash": {"field": "s", "type": "nominal", "scale": {"domain": ["g","o","b","r"], "range": [[1,0],[1,0],[12,10],[1,0]]}, "legend": null}}},
         {"mark": {"type": "point", "filled": false, "strokeWidth": 2.5, "opacity": 1, "clip": true},
          "encoding": {
            "shape": {"field": "s", "type": "nominal", "scale": {"domain": ["g","o","b","r"], "range": ["circle","M-1,-1L1,1M-1,1L1,-1","triangle-up","M-1,0L1,0M0,-1L0,1"]}, "legend": null},
            "size": {"field": "s", "type": "nominal", "scale": {"domain": ["g","o","b","r"], "range": [64, 100, 80, 110]}, "legend": null}
          }}
       ]
     }
    }
  ], "spacing": 0},
  {"width": 3, "height": 1219, "view": {"stroke": null}, "data": {"values": [{}]}, "mark": {"type": "rule", "color": "#000", "strokeWidth": 1.2}, "encoding": {"x": {"datum": 0.5, "scale": {"domain": [0, 1]}, "axis": null}}},
  {"vconcat": [
    {"data": {"values": []}, "mark": "point", "width": 10, "height": 11, "view": {"stroke": null}},
    {"data": {"name": "gau"},
     "facet": {
       "row": {"field": "m", "type": "nominal", "sort": ["SIN","COM","AVE","MCQ","CEN","MED","WAR"], "header": {"title": null, "labels": false}},
       "column": {"field": "d", "type": "nominal", "sort": ["R5","S0","NG8"], "header": {"title": null, "labelFont": "Liberation Serif", "labelFontSize": 30, "labelColor": "#000", "labelPadding": 25}}
     },
     "spacing": {"row": 28, "column": 10},
     "resolve": {"axis": {"x": "independent", "y": "independent"}},
     "spec": {
       "width": 142, "height": 120,
       "encoding": {
         "x": {"field": "x", "type": "quantitative", "scale": {"domain": [-0.035, 1.038], "nice": false, "zero": false},
               "axis": {"values": [0,0.2,0.4,0.5,0.6,0.8,1], "format": ".1f", "labelExpr": "datum.value == 0.5 ? '' : datum.label", "title": null, "domain": false, "grid": true, "gridColor": "#444", "gridDash": [1,2], "gridWidth": 1, "gridOpacity": {"condition": {"test": "datum.value == 0 || datum.value == 0.5 || datum.value == 1", "value": 1}, "value": 0}, "tickColor": "#000", "tickSize": 4, "tickWidth": 1, "tickOpacity": {"condition": {"test": "datum.value == 0.5", "value": 0}, "value": 1}, "labelFont": "Liberation Sans", "labelFontSize": 8.5, "labelColor": "#222", "labelPadding": 4, "labelFlush": false, "labelOverlap": false, "labelBound": false}},
         "y": {"field": "y", "type": "quantitative", "scale": {"domain": [-0.04, 1.066], "nice": false, "zero": false},
               "axis": {"values": [0,0.2,0.4,0.5,0.6,0.8,1], "format": ".1f", "labelExpr": "datum.value == 0.5 ? '' : datum.label", "title": null, "domain": false, "grid": true, "gridColor": "#444", "gridDash": [1,2], "gridWidth": 1, "gridOpacity": {"condition": {"test": "datum.value == 0 || datum.value == 0.5 || datum.value == 1", "value": 1}, "value": 0}, "tickColor": "#000", "tickSize": 4, "tickWidth": 1, "tickOpacity": {"condition": {"test": "datum.value == 0.5", "value": 0}, "value": 1}, "labelFont": "Liberation Sans", "labelFontSize": 8.5, "labelColor": "#222", "labelPadding": 5, "labelAngle": 270, "labelAlign": "center", "labelBaseline": "bottom", "labelFlush": false, "labelOverlap": false, "labelBound": false}},
         "color": {"field": "s", "type": "nominal", "scale": {"domain": ["g","o","b","r"], "range": ["#00e600","#ffa500","#0000ff","#ff0000"]}, "legend": null}
       },
       "layer": [
         {"mark": {"type": "line", "strokeWidth": 3, "clip": true},
          "encoding": {"strokeDash": {"field": "s", "type": "nominal", "scale": {"domain": ["g","o","b","r"], "range": [[1,0],[1,0],[12,10],[1,0]]}, "legend": null}}},
         {"mark": {"type": "point", "filled": false, "strokeWidth": 2.5, "opacity": 1, "clip": true},
          "encoding": {
            "shape": {"field": "s", "type": "nominal", "scale": {"domain": ["g","o","b","r"], "range": ["circle","M-1,-1L1,1M-1,1L1,-1","triangle-up","M-1,0L1,0M0,-1L0,1"]}, "legend": null},
            "size": {"field": "s", "type": "nominal", "scale": {"domain": ["g","o","b","r"], "range": [64, 100, 80, 110]}, "legend": null}
          }}
       ]
     }
    }
  ], "spacing": 0}
 ], "spacing": 14}
],
"spacing": 0
}
